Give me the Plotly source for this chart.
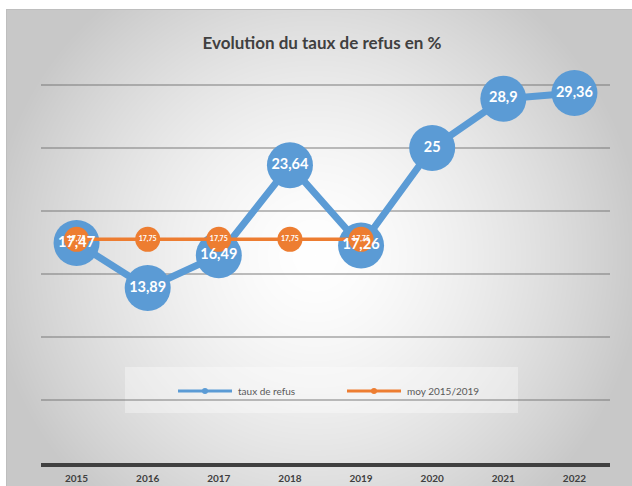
import base64, struct, zlib
import numpy as np
import plotly.graph_objects as go

years = ["2015", "2016", "2017", "2018", "2019", "2020", "2021", "2022"]
taux = [17.47, 13.89, 16.49, 23.64, 17.26, 25, 28.9, 29.36]
moy = [17.75, 17.75, 17.75, 17.75, 17.75, None, None, None]
series_names = ["taux de refus", "moy 2015/2019"]

BLUE = "#5B9BD5"
ORANGE = "#ED7D31"
FONT = "Lato"

def fmt(v):
    return None if v is None else f"{v:g}".replace(".", ",")

# ---- background radial gradient as a PNG data URI ----
W, H = 632, 486
yy, xx = np.mgrid[0:H, 0:W].astype(float)
d = np.sqrt(((xx - 315) / 330.0) ** 2 + ((yy - 255) / 330.0) ** 2)
d = np.clip(d, 0, 1)
g = 255 - 55 * d ** 1.5
img = np.stack([g, g, g], axis=-1)
img[:9, :, :] = 255
img[:, :6, :] = 255
img[9, 6:, :] = 190
img[9:, 6, :] = 190
img = img.astype(np.uint8)
raw = b"".join(b"\x00" + img[r].tobytes() for r in range(H))
def chunk(t, data):
    c = struct.pack(">I", len(data)) + t + data
    return c + struct.pack(">I", zlib.crc32(t + data) & 0xffffffff)
png = b"\x89PNG\r\n\x1a\n" + chunk(b"IHDR", struct.pack(">IIBBBBB", W, H, 8, 2, 0, 0, 0)) \
      + chunk(b"IDAT", zlib.compress(raw, 9)) + chunk(b"IEND", b"")
uri = "data:image/png;base64," + base64.b64encode(png).decode()

L, R, T, B = 41, 22, 22, 23
PW, PH = W - L - R, H - T - B

def px(x):
    return (x - L) / PW
def py(y):
    return (H - B - y) / PH

fig = go.Figure()

fig.add_trace(go.Scatter(
    x=years, y=taux, mode="lines+markers", name=series_names[0], showlegend=False,
    line=dict(color=BLUE, width=7), marker=dict(size=46, color=BLUE),
    cliponaxis=False, hoverinfo="skip"))
fig.add_trace(go.Scatter(
    x=years, y=moy, mode="lines+markers+text", name=series_names[1], showlegend=False,
    text=[fmt(v) for v in moy], textposition="middle center",
    textfont=dict(family=FONT, size=7, color="white", weight="bold"),
    line=dict(color=ORANGE, width=3.5), marker=dict(size=25, color=ORANGE),
    cliponaxis=False, hoverinfo="skip"))
fig.add_trace(go.Scatter(
    x=years, y=taux, mode="text", showlegend=False,
    text=[fmt(v) for v in taux], textposition="middle center",
    textfont=dict(family=FONT, size=14.5, color="white", weight="bold"),
    cliponaxis=False, hoverinfo="skip"))

# ---- legend drawn by hand ----
shapes = [dict(type="rect", xref="paper", yref="paper",
               x0=px(125), x1=px(518), y0=py(413), y1=py(367),
               fillcolor="rgba(255,255,255,0.35)", line=dict(width=0), layer="between")]
annotations = []
for name, col, x0 in zip(series_names, [BLUE, ORANGE], [178, 347]):
    shapes.append(dict(type="line", xref="paper", yref="paper",
                       x0=px(x0), x1=px(x0 + 54), y0=py(391), y1=py(391),
                       line=dict(color=col, width=3), layer="above"))
    shapes.append(dict(type="circle", xref="paper", yref="paper",
                       x0=px(x0 + 24), x1=px(x0 + 30), y0=py(388), y1=py(394),
                       fillcolor=col, line=dict(width=0), layer="above"))
    annotations.append(dict(text=name, xref="paper", yref="paper", x=px(x0 + 58), y=py(391),
                            xanchor="left", yanchor="middle", showarrow=False,
                            font=dict(family=FONT, size=10, color="#595959")))

fig.update_layout(
    width=W, height=H,
    margin=dict(l=L, r=R, t=T, b=B, pad=0, autoexpand=False),
    paper_bgcolor="white", plot_bgcolor="rgba(0,0,0,0)",
    showlegend=False,
    title=dict(text="<b>Evolution du taux de refus en %</b>", x=px(322), xref="paper",
               xanchor="center", y=1 - 43 / H, yanchor="middle",
               font=dict(family=FONT, size=17, color="#404040")),
    xaxis=dict(type="category", range=[-0.5, 7.5], showgrid=False, automargin=False,
               showline=True, linecolor="#404040", linewidth=4, ticks="",
               ticklabelstandoff=3,
               tickfont=dict(family=FONT, size=10, color="#404040", weight="bold"),
               fixedrange=True),
    yaxis=dict(range=[0, 35], dtick=5, showgrid=True, automargin=False,
               gridcolor="rgba(110,110,110,0.45)", gridwidth=1.5,
               showticklabels=False, zeroline=False, showline=False, fixedrange=True),
    images=[dict(source=uri, xref="paper", yref="paper", x=px(0), y=py(0),
                 sizex=W / PW, sizey=H / PH, xanchor="left", yanchor="top",
                 sizing="stretch", layer="below")],
    shapes=shapes,
    annotations=annotations,
)

fig.write_html("out.html", config={"displayModeBar": False},
               post_script="document.body.style.margin='0';document.body.style.overflow='hidden';")
